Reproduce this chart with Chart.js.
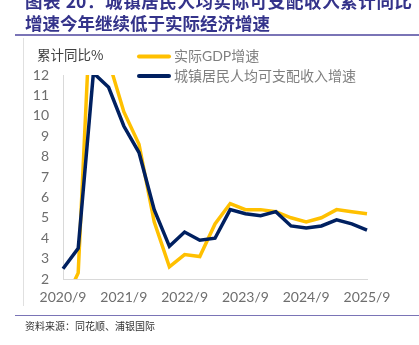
<!DOCTYPE html>
<html>
<head>
  <title>城镇居民人均可支配收入累计同比</title>
  <script src="https://cdn.jsdelivr.net/npm/chart.js"></script>
  <style>
    body { margin: 0; background: #fff; }
    #wrap { position: relative; width: 419px; height: 345px; overflow: hidden; }
    #wrap canvas { position: absolute; left: 0; top: 0; }
    .title { position: absolute; left: 25px; font-family: "Noto Sans CJK SC", sans-serif; font-weight: bold;
             font-size: 17.5px; line-height: 22px; color: #34338a; white-space: nowrap; }
    .rule { position: absolute; left: 15px; width: 404px; height: 1.5px; background: #7a74b6; }
    .frame { position: absolute; left: 23px; top: 38px; width: 1px; height: 268px; background: #e0e0e0; }
    .source { position: absolute; left: 25px; top: 319px; font-family: "Noto Sans CJK SC", sans-serif;
              font-size: 10px; line-height: 14px; color: #333; }
  </style>
</head>
<body>
  <div id="wrap">
    <canvas id="chart"></canvas>
    <div class="title" style="top:-10.5px; width:387px; text-align:justify; text-align-last:justify;">图表 20：城镇居民人均实际可支配收入累计同比</div>
    <div class="title" style="top:11.5px;">增速今年继续低于实际经济增速</div>
    <div class="rule" style="top:34px;"></div>
    <div class="frame"></div>
    <div class="rule" style="top:314.5px;"></div>
    <div class="source">资料来源：同花顺、浦银国际</div>
  </div>

  <script>
    // quarterly cumulative growth, %
    const quarters = ['2020/9', '2020/12', '2021/3', '2021/6', '2021/9', '2021/12',
      '2022/3', '2022/6', '2022/9', '2022/12', '2023/3', '2023/6', '2023/9', '2023/12',
      '2024/3', '2024/6', '2024/9', '2024/12', '2025/3', '2025/6', '2025/9'];
    const gdpGrowth = [0.7, 2.3, 18.3, 12.7, 10.2, 8.6, 4.8, 2.6, 3.2, 3.1, 4.7,
      5.7, 5.4, 5.4, 5.3, 5.0, 4.8, 5.0, 5.4, 5.3, 5.2];
    const incomeGrowth = [2.5, 3.5, 12.1, 11.4, 9.5, 8.2, 5.4, 3.6, 4.3, 3.9, 4.0,
      5.4, 5.2, 5.1, 5.3, 4.6, 4.5, 4.6, 4.9, 4.7, 4.4];
    const tickLabels = ['2020/9', '2021/9', '2022/9', '2023/9', '2024/9', '2025/9'];
    const seriesNames = ['实际GDP增速', '城镇居民人均可支配收入增速'];
    const yTitle = '累计同比%';

    const gold = '#ffc000';
    const navy = '#002060';
    const latinFont = 'Lato, "Noto Sans CJK SC", sans-serif';

    // y title + two-row legend, placed like the original
    const legendPlugin = {
      id: 'customLegend',
      afterDraw(chart) {
        const ctx = chart.ctx;
        ctx.save();
        ctx.textBaseline = 'middle';
        ctx.textAlign = 'left';
        ctx.font = '13.5px "Noto Sans CJK SC", sans-serif';
        ctx.fillStyle = '#404040';
        ctx.fillText(yTitle, 37, 55);

        const rows = [{ name: seriesNames[0], color: gold, y: 56.5 },
                      { name: seriesNames[1], color: navy, y: 76 }];
        rows.forEach(r => {
          ctx.strokeStyle = r.color;
          ctx.lineWidth = 4;
          ctx.lineCap = 'round';
          ctx.beginPath();
          ctx.moveTo(139, r.y);
          ctx.lineTo(169, r.y);
          ctx.stroke();
          ctx.font = '14px ' + latinFont;
          ctx.fillStyle = '#7f7f7f';
          ctx.fillText(r.name, 174, r.y);
        });
        ctx.restore();
      }
    };

    new Chart(document.getElementById('chart'), {
      type: 'line',
      data: {
        labels: quarters,
        datasets: [
          {
            label: seriesNames[0],
            data: gdpGrowth,
            borderColor: gold,
            borderWidth: 3.5,
            pointRadius: 0,
            tension: 0,
            order: 2,
          },
          {
            label: seriesNames[1],
            data: incomeGrowth,
            borderColor: navy,
            borderWidth: 3.5,
            pointRadius: 0,
            tension: 0,
            order: 1,
          },
        ],
      },
      options: {
        responsive: true,
        maintainAspectRatio: false,
        animation: false,
        layout: { padding: { left: 25, right: 52, top: 75, bottom: 33 } },
        plugins: { legend: { display: false }, tooltip: { enabled: false } },
        scales: {
          x: {
            grid: { display: false, drawTicks: false },
            border: { display: true, color: '#d9d9d9', width: 1 },
            ticks: {
              autoSkip: false,
              maxRotation: 0,
              padding: 10,
              color: '#6e6e6e',
              font: { family: latinFont, size: 14 },
              callback: function (v) {
                const lab = this.getLabelForValue(v);
                return tickLabels.includes(lab) ? lab : '';
              },
            },
            afterFit(scale) { scale.height = 33; },
          },
          y: {
            min: 2,
            max: 12,
            grid: { display: false, drawTicks: false },
            border: { display: true, color: '#d9d9d9', width: 1 },
            ticks: {
              stepSize: 1,
              padding: 14,
              color: '#6e6e6e',
              font: { family: latinFont, size: 14 },
            },
            afterFit(scale) { scale.width = 38; },
          },
        },
      },
      plugins: [legendPlugin],
    });
  </script>
</body>
</html>
